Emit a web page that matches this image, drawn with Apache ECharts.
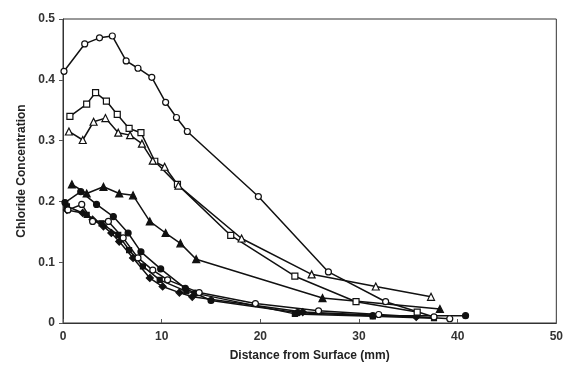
<!DOCTYPE html>
<html><head><meta charset="utf-8">
<script src="https://cdn.jsdelivr.net/npm/echarts@6/dist/echarts.min.js"></script>
<style>html,body{margin:0;padding:0;background:#fff}#c{width:566px;height:372px}</style>
</head><body><div id="c"></div>
<script>
const xTicks = [0, 10, 20, 30, 40, 50];
const yTicks = [0, 0.1, 0.2, 0.3, 0.4, 0.5];

const openCircleTop = [[0.1,0.414],[2.2,0.459],[3.7,0.469],[5.0,0.472],[6.4,0.431],[7.6,0.419],[9.0,0.404],[10.4,0.363],[11.5,0.338],[12.6,0.315],[19.8,0.208],[26.9,0.084],[32.7,0.035],[37.6,0.010]];
const openSquare = [[0.7,0.340],[2.4,0.360],[3.3,0.379],[4.4,0.365],[5.5,0.343],[6.7,0.320],[7.9,0.313],[9.3,0.266],[11.6,0.228],[17.0,0.144],[23.5,0.077],[29.7,0.035],[35.9,0.018]];
const openTriangle = [[0.6,0.315],[2.0,0.301],[3.1,0.331],[4.3,0.337],[5.6,0.313],[6.8,0.309],[8.0,0.295],[9.1,0.267],[10.3,0.257],[11.7,0.226],[18.1,0.139],[25.2,0.080],[31.7,0.060],[37.3,0.043]];
const filledTriangle = [[0.9,0.228],[2.4,0.213],[4.1,0.224],[5.7,0.213],[7.1,0.210],[8.8,0.167],[10.4,0.148],[11.9,0.131],[13.5,0.105],[26.3,0.041],[38.2,0.023]];
const filledCircle = [[0.2,0.198],[1.8,0.216],[3.4,0.195],[5.1,0.175],[6.6,0.148],[7.9,0.117],[9.9,0.089],[12.4,0.057],[13.4,0.049],[15.0,0.037],[23.8,0.017],[31.4,0.012],[40.8,0.012]];
const openCircleLow = [[0.5,0.186],[1.9,0.195],[3.0,0.167],[4.6,0.167],[6.1,0.140],[7.6,0.107],[9.1,0.087],[10.6,0.071],[13.8,0.050],[19.5,0.032],[25.9,0.020],[32.0,0.014],[39.2,0.007]];
const filledDiamond = [[0.4,0.186],[2.0,0.181],[3.0,0.170],[4.1,0.159],[4.9,0.148],[5.7,0.134],[7.1,0.107],[8.8,0.074],[10.1,0.060],[11.8,0.050],[13.1,0.043],[24.3,0.018],[35.8,0.010]];
const filledSquare = [[0.4,0.192],[2.4,0.178],[3.9,0.164],[5.6,0.145],[6.7,0.120],[8.1,0.093],[9.8,0.071],[12.5,0.052],[23.5,0.015],[31.4,0.011],[37.6,0.008]];

function mk(name, data, symbol, open, size) {
  return {
    name, type: 'line', data, symbol, symbolSize: size || 6,
    lineStyle: {color: '#111', width: 1.5},
    itemStyle: {color: open ? '#fff' : '#111', borderColor: '#111', borderWidth: 1.2},
    animation: false, z: open ? 3 : 2
  };
}

const chart = echarts.init(document.getElementById('c'));
const lab = {fontFamily: 'Liberation Sans, Arial', fontWeight: 'bold', fontSize: 12, color: '#333'};
chart.setOption({
  animation: false,
  grid: {left: 63, right: 8, top: 19, bottom: 49, show: true, borderColor: '#333', borderWidth: 1},
  xAxis: {
    type: 'value', min: 0, max: 50, interval: 10,
    name: 'Distance from Surface (mm)', nameLocation: 'middle', nameGap: 27,
    nameTextStyle: {fontFamily: 'Liberation Sans, Arial', fontWeight: 'bold', fontSize: 12, color: '#222'},
    axisLine: {lineStyle: {color: '#333', width: 1}},
    axisTick: {show: true, inside: true, length: 4, lineStyle: {color: '#555'}},
    axisLabel: Object.assign({margin: 8, formatter: v => xTicks.includes(v) ? String(v) : ''}, lab),
    splitLine: {show: false}
  },
  yAxis: {
    type: 'value', min: 0, max: 0.5, interval: 0.1,
    name: 'Chloride Concentration', nameLocation: 'middle', nameGap: 35, nameRotate: 90,
    nameTextStyle: {fontFamily: 'Liberation Sans, Arial', fontWeight: 'bold', fontSize: 12, color: '#222'},
    axisLine: {lineStyle: {color: '#333', width: 1}},
    axisTick: {show: true, length: 4, lineStyle: {color: '#555'}},
    axisLabel: Object.assign({margin: 8, formatter: v => {
      const t = yTicks.find(k => Math.abs(k - v) < 1e-9);
      return t === undefined ? '' : (t === 0 ? '0' : t.toFixed(1));
    }}, lab),
    splitLine: {show: false}
  },
  series: [
    mk('a', openCircleTop, 'circle', true, 6),
    mk('b', openSquare, 'rect', true, 6),
    mk('c', openTriangle, 'triangle', true, 7),
    mk('d', filledTriangle, 'triangle', false, 7),
    mk('e', filledCircle, 'circle', false, 6),
    mk('f', openCircleLow, 'circle', true, 6),
    mk('g', filledDiamond, 'diamond', false, 7),
    mk('h', filledSquare, 'rect', false, 5)
  ]
});
</script></body></html>
